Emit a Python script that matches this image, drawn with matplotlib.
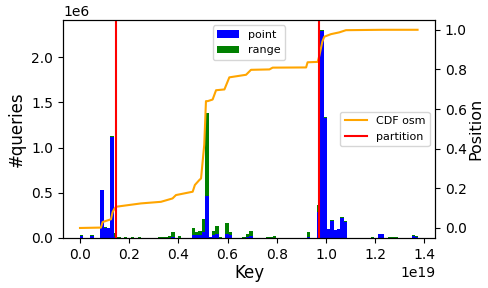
import numpy as np
import matplotlib
matplotlib.use("Agg")
import matplotlib.pyplot as plt

# histogram: 100 bins over the key range, only non-empty bins listed
key_max = 1.375e19
n_bins = 100
bin_idx = [0, 3, 6, 7, 8, 9, 10, 11, 13, 15, 17, 23, 24, 25, 26, 27, 29,
           33, 34, 35, 36, 37, 38, 39, 40, 41, 43, 44, 48, 49, 50, 55, 56, 57,
           67, 70, 71, 72, 73, 74, 75, 76, 77, 78, 86, 88, 89, 91, 92, 93, 98, 99]
point_m = [0.025, 0.025, 0.525, 0.115, 0.105, 1.115, 0.01, 0.0, 0.0, 0.0, 0.0, 0.0, 0.0, 0.0, 0.0, 0.008, 0.003,
           0.035, 0.03, 0.03, 0.06, 0.46, 0.008, 0.03, 0.045, 0.0, 0.04, 0.03, 0.0, 0.008, 0.02, 0.0, 0.0, 0.004,
           0.008, 0.29, 2.29, 1.33, 0.095, 0.19, 0.085, 0.095, 0.225, 0.18, 0.0, 0.04, 0.04, 0.0, 0.0, 0.0, 0.025, 0.015]
range_m = [0.008, 0.006, 0.01, 0.01, 0.01, 0.01, 0.045, 0.005, 0.005, 0.005, 0.005, 0.008, 0.01, 0.015, 0.02, 0.06, 0.022,
           0.08, 0.035, 0.05, 0.15, 0.925, 0.004, 0.05, 0.09, 0.01, 0.125, 0.04, 0.008, 0.04, 0.058, 0.006, 0.006, 0.02,
           0.06, 0.075, 0.01, 0.01, 0.005, 0.01, 0.006, 0.006, 0.01, 0.01, 0.01, 0.004, 0.004, 0.006, 0.006, 0.006, 0.008, 0.005]

# CDF of the osm keys (key in 1e19, position 0..1)
cdf_key = [0.0, 0.085, 0.092, 0.126, 0.1325, 0.139, 0.146, 0.248, 0.329, 0.376, 0.39, 0.458, 0.467, 0.485,
           0.492, 0.505, 0.512, 0.519, 0.539, 0.553, 0.587, 0.607, 0.675, 0.695, 0.77, 0.783, 0.919, 0.925,
           0.966, 0.973, 0.985, 0.993, 1.02, 1.054, 1.081, 1.23, 1.372]
cdf_pos = [0.0, 0.002, 0.03, 0.044, 0.08, 0.095, 0.107, 0.124, 0.132, 0.149, 0.166, 0.183, 0.217, 0.242,
           0.25, 0.42, 0.64, 0.64, 0.648, 0.695, 0.699, 0.76, 0.773, 0.798, 0.8, 0.809, 0.81, 0.836,
           0.838, 0.87, 0.94, 0.965, 0.978, 0.987, 0.998, 1.0, 1.0]

partitions = [0.146e19, 0.973e19]

edges = np.linspace(0, key_max, n_bins + 1)
centers = (edges[:-1] + edges[1:]) / 2
x = centers[bin_idx]

fig = plt.figure(figsize=(4.89, 2.88), dpi=100)
ax = fig.add_axes([0.129, 0.174, 0.761, 0.757])
ax.hist([x, x], bins=edges, weights=[np.array(point_m) * 1e6, np.array(range_m) * 1e6],
        stacked=True, color=['blue', 'green'], label=['point', 'range'])
ax.set_xlabel("Key", fontsize=12, labelpad=2)
ax.set_ylabel("#queries", fontsize=12)
ax.legend(loc='upper center', fontsize=8)

ax2 = ax.twinx()
ax2.plot(np.array(cdf_key) * 1e19, cdf_pos, color='orange', label='CDF osm')
for i, p in enumerate(partitions):
    ax2.axvline(p, color='red', linewidth=1.5, label='partition' if i == 0 else None)
ax2.set_ylabel("Position", fontsize=11.5, labelpad=1)
ax2.legend(loc='center right', fontsize=8)

fig.savefig("out.png", dpi=100)
